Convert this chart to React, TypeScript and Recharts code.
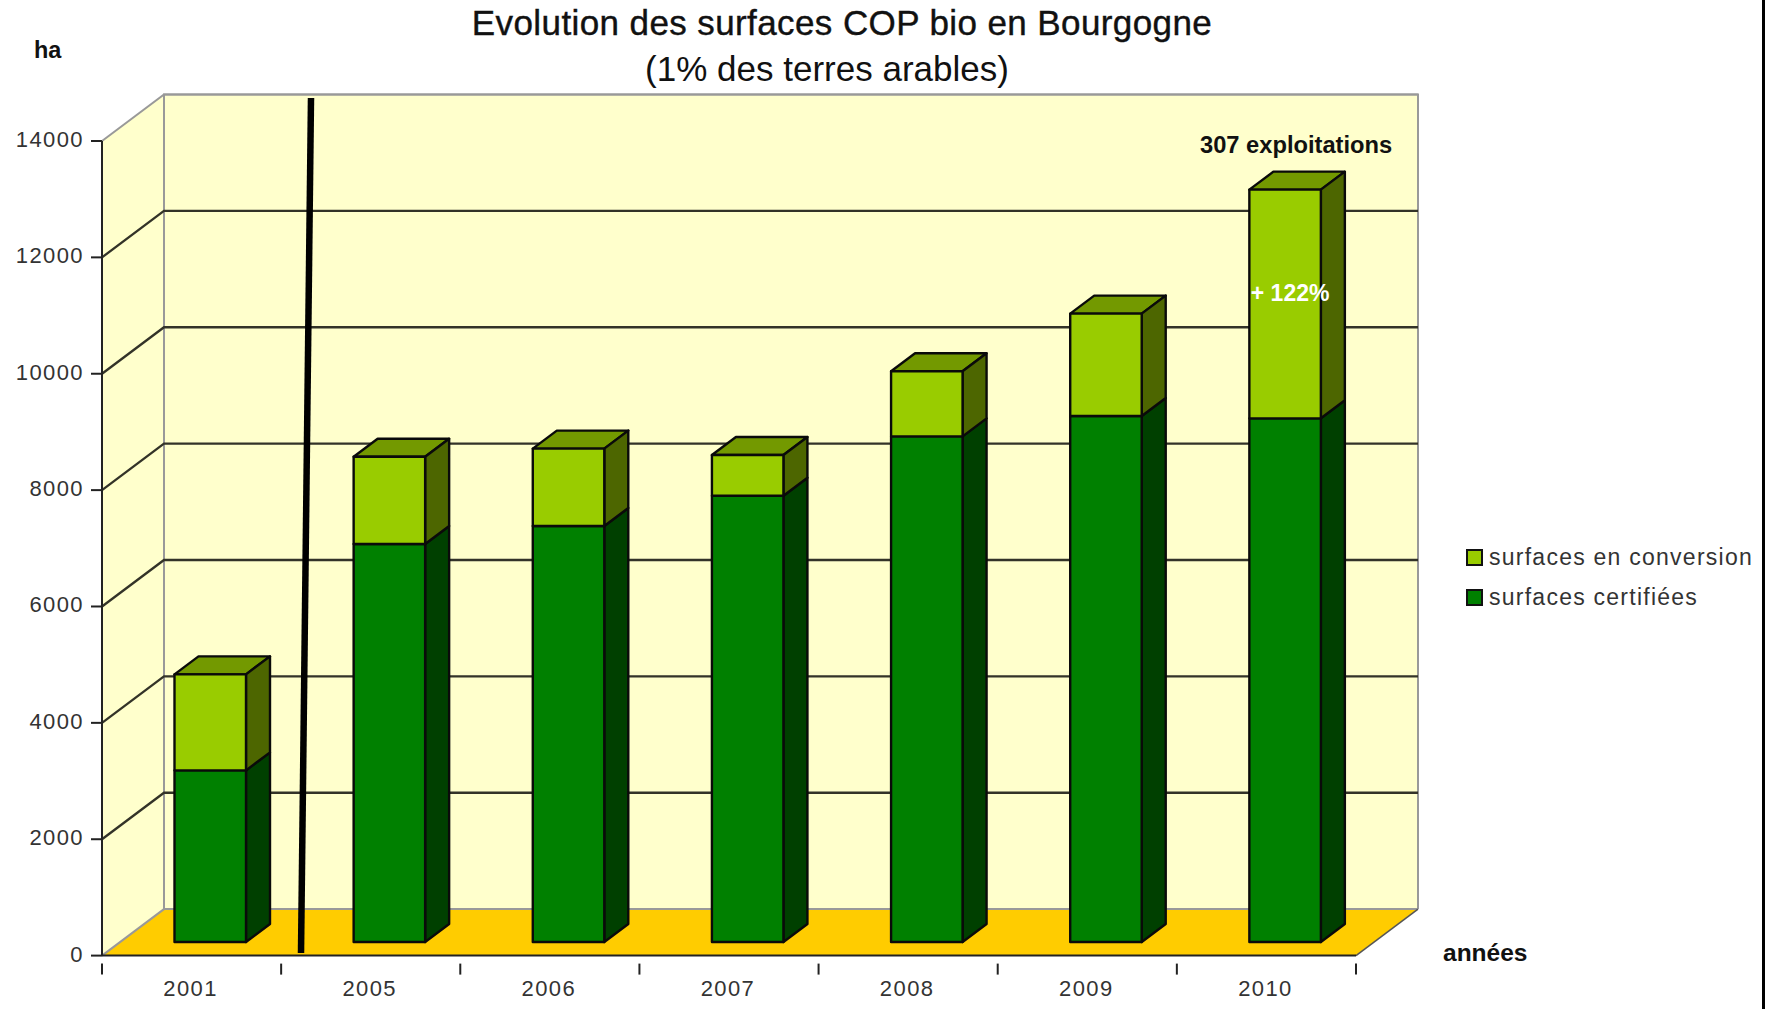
import React from "react";
import {
  Bar,
  BarChart,
  CartesianGrid,
  LabelList,
  Legend,
  XAxis,
  YAxis,
} from "recharts";

const years = ["2001", "2005", "2006", "2007", "2008", "2009", "2010"];
const certified = [2950, 6840, 7150, 7670, 8690, 9040, 9000];
const conversion = [1650, 1500, 1330, 700, 1120, 1760, 3930];
const notes = ["", "", "", "", "", "", "+ 122%"];
const yTicks = [0, 2000, 4000, 6000, 8000, 10000, 12000, 14000];

const data = years.map((year, i) => ({
  year,
  certified: certified[i],
  conversion: conversion[i],
  note: notes[i],
}));

const WIDTH = 1765;
const HEIGHT = 1009;
const PLOT = { left: 102, right: 1356, top: 141, bottom: 955.6 };
const SLOT = (PLOT.right - PLOT.left) / years.length;

// Depth of the fake 3D box, and of the bars standing in the middle of it.
const DEPTH = { x: 62, y: 46.5 };
const BAR_SHIFT = { x: 18.5, y: 13.6 };
const BAR_DEPTH = { x: 24, y: 18 };

const FONT = "'Liberation Sans', Arial, sans-serif";

function Walls() {
  const { left, right, top, bottom } = PLOT;
  const bx = DEPTH.x;
  const by = DEPTH.y;
  return (
    <g>
      <rect x={left + bx} y={top - by} width={right - left} height={bottom - top} fill="#ffffcc" stroke="none" />
      <polygon
        points={`${left},${top} ${left + bx},${top - by} ${left + bx},${bottom - by} ${left},${bottom}`}
        fill="#ffffcc"
      />
      <polygon
        points={`${left},${bottom} ${right},${bottom} ${right + bx},${bottom - by} ${left + bx},${bottom - by}`}
        fill="#ffcc00"
      />
      <polyline
        points={`${left + bx},${bottom - by} ${left + bx},${top - by} ${right + bx},${top - by} ${right + bx},${bottom - by}`}
        fill="none"
        stroke="#999"
        strokeWidth={2}
      />
    </g>
  );
}

function GridLine(props: any) {
  const { x1, x2, y1, index } = props;
  const edge = y1 >= PLOT.bottom - 1 || y1 <= PLOT.top + 1;
  return (
    <g key={`grid-${index}`}>
      {index === 0 && <Walls />}
      <polyline
        points={`${x1},${y1} ${x1 + DEPTH.x},${y1 - DEPTH.y} ${x2 + DEPTH.x},${y1 - DEPTH.y}`}
        fill="none"
        stroke={edge ? "#999" : "#333328"}
        strokeWidth={edge ? 2 : 2.3}
      />
      {y1 >= PLOT.bottom - 1 && (
        <line
          x1={x2}
          y1={y1}
          x2={x2 + DEPTH.x}
          y2={y1 - DEPTH.y}
          stroke="#555"
          strokeWidth={1.5}
        />
      )}
    </g>
  );
}

function Bar3D(props: any) {
  const { x, y, width, height, fill, side, top } = props;
  const l = x + BAR_SHIFT.x;
  const r = l + width;
  const t = y - BAR_SHIFT.y;
  const b = t + height;
  const dx = BAR_DEPTH.x;
  const dy = BAR_DEPTH.y;
  const line = { stroke: "#0a0a0a", strokeWidth: 2.4, strokeLinejoin: "round" as const };
  return (
    <g>
      {top && (
        <polygon points={`${l},${t} ${r},${t} ${r + dx},${t - dy} ${l + dx},${t - dy}`} fill={top} {...line} />
      )}
      <polygon points={`${r},${t} ${r + dx},${t - dy} ${r + dx},${b - dy} ${r},${b}`} fill={side} {...line} />
      <rect x={l} y={t} width={width} height={height} fill={fill} {...line} />
    </g>
  );
}

function YearTick(props: any) {
  const { x, y, payload, index } = props;
  const boundary = x - SLOT / 2;
  return (
    <g>
      <line x1={boundary} y1={y} x2={boundary} y2={y + 11} stroke="#222" strokeWidth={2} />
      {index === years.length - 1 && (
        <line x1={x + SLOT / 2} y1={y} x2={x + SLOT / 2} y2={y + 11} stroke="#222" strokeWidth={2} />
      )}
      <text x={x - 1} y={y + 32} textAnchor="middle" fontFamily={FONT} fontSize={22} letterSpacing={1.4} fill="#333">
        {payload.value}
      </text>
    </g>
  );
}

function ValueTick(props: any) {
  const { x, y, payload } = props;
  return (
    <text x={x + 1} y={y + 6} textAnchor="end" fontFamily={FONT} fontSize={22} letterSpacing={1.4} fill="#333">
      {payload.value}
    </text>
  );
}

function NoteLabel(props: any) {
  const { x, y, width, height, value } = props;
  if (!value) return null;
  return (
    <text
      x={x + BAR_SHIFT.x + width / 2 + 5}
      y={y - BAR_SHIFT.y + height / 2 + 7 - 10}
      textAnchor="middle"
      fontFamily={FONT}
      fontSize={23}
      fontWeight="bold"
      fill="#fff"
    >
      {value}
    </text>
  );
}

function SeriesLegend() {
  const rows = [
    { label: "surfaces en conversion", color: "#99cc00" },
    { label: "surfaces certifiées", color: "#008000" },
  ];
  return (
    <div style={{ fontFamily: FONT, fontSize: 23, letterSpacing: 1.25, color: "#333" }}>
      {rows.map((r) => (
        <div key={r.label} style={{ display: "flex", alignItems: "center", height: 40 }}>
          <span
            style={{
              width: 13,
              height: 13,
              marginRight: 6,
              background: r.color,
              border: "2px solid #111",
            }}
          />
          {r.label}
        </div>
      ))}
    </div>
  );
}

function Notes() {
  return (
    <g fontFamily={FONT}>
      <text x={842} y={35} textAnchor="middle" fontSize={35} letterSpacing={0.4} fill="#111" stroke="#111" strokeWidth={0.4}>
        Evolution des surfaces COP bio en Bourgogne
      </text>
      <text x={827} y={81} textAnchor="middle" fontSize={35} fill="#111">
        (1% des terres arables)
      </text>
      <text x={34} y={58} fontSize={23.5} fontWeight="bold" fill="#111">
        ha
      </text>
      <text x={1443} y={961} fontSize={24.5} fontWeight="bold" fill="#111">
        années
      </text>
      <text x={1200} y={153} fontSize={23.7} fontWeight="bold" fill="#111">
        307 exploitations
      </text>
      <line x1={311} y1={98} x2={301} y2={953} stroke="#000" strokeWidth={6.5} />
    </g>
  );
}

export default function App() {
  return (
    <div style={{ position: "absolute", left: 0, top: 0, width: WIDTH, height: HEIGHT, background: "#fff", overflow: "hidden" }}>
      <BarChart
        width={WIDTH}
        height={HEIGHT}
        data={data}
        barSize={71.5}
        margin={{
          left: PLOT.left - 60,
          right: WIDTH - PLOT.right,
          top: PLOT.top,
          bottom: HEIGHT - PLOT.bottom - 40,
        }}
      >
        <CartesianGrid vertical={false} horizontal={(p: any) => <GridLine {...p} />} />
        <XAxis
          dataKey="year"
          height={40}
          interval={0}
          tickLine={false}
          axisLine={{ stroke: "#222", strokeWidth: 2 }}
          tick={(p: any) => <YearTick {...p} />}
        />
        <YAxis
          width={60}
          domain={[0, 14000]}
          ticks={yTicks}
          interval={0}
          tickSize={11}
          tickMargin={8}
          tickLine={{ stroke: "#222", strokeWidth: 2 }}
          axisLine={{ stroke: "#222", strokeWidth: 2 }}
          tick={(p: any) => <ValueTick {...p} />}
        />
        <Legend
          layout="horizontal"
          align="center"
          verticalAlign="middle"
          wrapperStyle={{ left: 1466, top: 537, width: 296 }}
          content={() => <SeriesLegend />}
        />
        <Bar
          dataKey="certified"
          stackId="surface"
          fill="#008000"
          isAnimationActive={false}
          shape={(p: any) => <Bar3D {...p} side="#004000" />}
        />
        <Bar
          dataKey="conversion"
          stackId="surface"
          fill="#99cc00"
          isAnimationActive={false}
          shape={(p: any) => <Bar3D {...p} side="#4d6600" top="#739900" />}
        >
          <LabelList dataKey="note" content={(p: any) => <NoteLabel {...p} />} />
        </Bar>
        <Notes />
      </BarChart>
      <div style={{ position: "absolute", right: 0, top: 0, bottom: 0, width: 3, background: "#000" }} />
    </div>
  );
}
